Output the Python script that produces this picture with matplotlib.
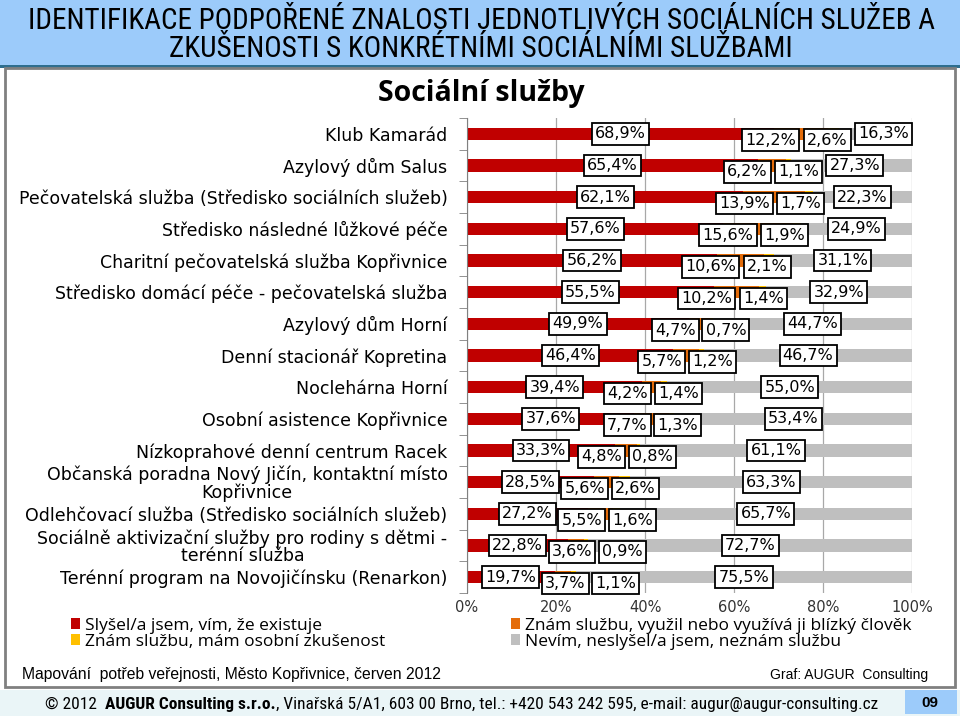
import matplotlib
matplotlib.use('Agg')
import matplotlib.pyplot as plt
import numpy as np
from matplotlib import font_manager
from matplotlib.patches import Rectangle

# Data
categories = [
    'Klub Kamarád',
    'Azylový dům Salus',
    'Pečovatelská služba (Středisko sociálních služeb)',
    'Středisko následné lůžkové péče',
    'Charitní pečovatelská služba Kopřivnice',
    'Středisko domácí péče - pečovatelská služba',
    'Azylový dům Horní',
    'Denní stacionář Kopretina',
    'Noclehárna Horní',
    'Osobní asistence Kopřivnice',
    'Nízkoprahové denní centrum Racek',
    'Občanská poradna Nový Jičín, kontaktní místo\nKopřivnice',
    'Odlehčovací služba (Středisko sociálních služeb)',
    'Sociálně aktivizační služby pro rodiny s dětmi -\nterénní služba',
    'Terénní program na Novojičínsku (Renarkon)',
]
heard = [68.9, 65.4, 62.1, 57.6, 56.2, 55.5, 49.9, 46.4, 39.4, 37.6, 33.3, 28.5, 27.2, 22.8, 19.7]
close_person = [12.2, 6.2, 13.9, 15.6, 10.6, 10.2, 4.7, 5.7, 4.2, 7.7, 4.8, 5.6, 5.5, 3.6, 3.7]
own_exp = [2.6, 1.1, 1.7, 1.9, 2.1, 1.4, 0.7, 1.2, 1.4, 1.3, 0.8, 2.6, 1.6, 0.9, 1.1]
unknown = [16.3, 27.3, 22.3, 24.9, 31.1, 32.9, 44.7, 46.7, 55.0, 53.4, 61.1, 63.3, 65.7, 72.7, 75.5]

series_names = ['Slyšel/a jsem, vím, že existuje',
                'Znám službu, využil nebo využívá ji blízký člověk',
                'Znám službu, mám osobní zkušenost',
                'Nevím, neslyšel/a jsem, neznám službu']
colors = ['#C00000', '#E46C0A', '#FFC000', '#BFBFBF']
xticks = [0, 20, 40, 60, 80, 100]

# look for a narrow font for the slide header / footer
names = {f.name for f in font_manager.fontManager.ttflist}
narrow = None
for cand in ['Liberation Sans Narrow', 'Arial Narrow', 'Roboto Condensed', 'DejaVu Sans Condensed',
             'Open Sans Condensed', 'Noto Sans Condensed']:
    if cand in names:
        narrow = cand
        break
if narrow is None:
    for f in font_manager.fontManager.ttflist:
        if ('Narrow' in f.name or 'Condensed' in f.name) and 'Mono' not in f.name:
            narrow = f.name
            break
head_size = 21 if narrow else 17.3
foot_size = 12.5 if narrow else 10.6
if narrow is None:
    narrow = 'Liberation Sans'

wide = 'DejaVu Sans'

fig = plt.figure(figsize=(9.6, 7.16), dpi=100)

# background frames
def band(x0, y0, w, h, fc, ec='none', lw=0):
    fig.patches.append(Rectangle((x0 / 960, 1 - (y0 + h) / 716), w / 960, h / 716,
                                 transform=fig.transFigure, facecolor=fc, edgecolor=ec,
                                 lw=lw, zorder=-10))

band(0, 0, 960, 66, '#9CCBFA')
band(0, 65.5, 960, 2.5, '#2E6E8E')
band(5, 68, 950, 619, 'white', '#808080', 2)
band(0, 690, 960, 26, '#EAF5F7')
band(905, 690, 52, 24, '#9CCBFA')

# header
fig.text(481 / 960, 1 - 21 / 716, 'IDENTIFIKACE PODPOŘENÉ ZNALOSTI JEDNOTLIVÝCH SOCIÁLNÍCH SLUŽEB A',
         ha='center', va='center', fontsize=head_size, family=narrow)
fig.text(481 / 960, 1 - 49 / 716, 'ZKUŠENOSTI S KONKRÉTNÍMI SOCIÁLNÍMI SLUŽBAMI',
         ha='center', va='center', fontsize=head_size, family=narrow)
fig.text(481 / 960, 1 - 93 / 716, 'Sociální služby', ha='center', va='center',
         fontsize=20.5, fontweight='bold', family='Open Sans')

ax = fig.add_axes([467 / 960, 1 - 593 / 716, 445 / 960, 475 / 716])
ax.set_zorder(2)
y = np.arange(len(categories))
data = [heard, close_person, own_exp, unknown]
left = np.zeros(len(categories))
for vals, c, name in zip(data, colors, series_names):
    ax.barh(y, vals, left=left, height=0.38, color=c, label=name, zorder=2)
    left += np.array(vals)

ax.set_xlim(0, 100)
ax.set_ylim(len(categories) - 0.5, -0.5)
ax.set_xticks(xticks)
ax.set_xticklabels([f'{v}%' for v in xticks], family=wide)
ax.grid(axis='x', color='#A8A8A8', lw=0.9, zorder=0)
ax.patch.set_visible(False)
for s in ['top', 'right', 'bottom']:
    ax.spines[s].set_visible(False)
ax.spines['left'].set_color('#808080')
ax.tick_params(axis='x', length=0, pad=5, labelsize=10.5, labelcolor='#333333')
ax.set_yticks(y)
ax.set_yticklabels(categories, fontsize=12.5, family=wide, linespacing=0.95)
ax.set_yticks(np.arange(len(categories) + 1) - 0.5, minor=True)
ax.tick_params(axis='y', which='major', length=0, pad=14)
ax.tick_params(axis='y', which='minor', length=6, color='#808080', direction='out')
for lbl in ax.get_yticklabels():
    lbl.set_multialignment('center')

# value labels (white boxes, spread to avoid overlap)
box = dict(boxstyle='square,pad=0.2', fc='white', ec='black', lw=1.3)
def w(s):
    return 2.6 * len(s) + 0.5
for i in range(len(categories)):
    h, o, e, u = heard[i], close_person[i], own_exp[i], unknown[i]
    sh, so, se, su = [f'{v:.1f}'.replace('.', ',') + '%' for v in (h, o, e, u)]
    kw = dict(ha='center', va='center', fontsize=11.5, family=wide, bbox=box, zorder=5)
    xr = h / 2
    ax.text(xr, i, sh, **kw)
    o_right = max(h + o / 2, xr + w(sh) / 2 + w(so))
    ax.text(o_right - w(so) / 2, i + 0.2, so, **kw)
    e_left = o_right + 0.5
    ax.text(e_left + w(se) / 2, i + 0.2, se, **kw)
    u_c = max(h + o + e + u / 2, e_left + w(se) + 0.5 + w(su) / 2)
    ax.text(u_c, i, su, **kw)

handles, labels = ax.get_legend_handles_labels()
order = [0, 2, 1, 3]
fig.legend([handles[k] for k in order], [labels[k] for k in order], ncol=2,
           loc='upper left', bbox_to_anchor=(62 / 960, 1 - 609 / 716), frameon=False,
           prop={'family': 'Open Sans', 'size': 12.5}, handlelength=0.55, handleheight=0.55,
           handletextpad=0.3, columnspacing=7.2, labelspacing=0.0, borderpad=0)

fig.text(22 / 960, 1 - 675 / 716, 'Mapování  potřeb veřejnosti, Město Kopřivnice, červen 2012',
         ha='left', va='center', fontsize=11.3, family='Liberation Sans')
fig.text(928 / 960, 1 - 675 / 716, 'Graf: AUGUR  Consulting',
         ha='right', va='center', fontsize=10, family='Liberation Sans')

# footer with bold company name
ov = fig.add_axes([0, 0, 1, 1])
ov.set_zorder(-1)
ov.axis('off')
t1 = ov.text(45 / 960, 1 - 704 / 716, '© 2012  ', ha='left', va='center', fontsize=foot_size, family=narrow)
t2 = ov.annotate('AUGUR Consulting s.r.o.', xy=(1, 0), xycoords=t1, ha='left', va='bottom',
                 fontsize=foot_size, family=narrow, fontweight='bold')
ov.annotate(', Vinařská 5/A1, 603 00 Brno, tel.: +420 543 242 595, e-mail: augur@augur-consulting.cz',
            xy=(1, 0), xycoords=t2, ha='left', va='bottom', fontsize=foot_size, family=narrow)
fig.text(930 / 960, 1 - 703 / 716, '09', ha='center', va='center', fontsize=11,
         fontweight='bold', family='Liberation Sans')

fig.savefig('out.png', dpi=100)
